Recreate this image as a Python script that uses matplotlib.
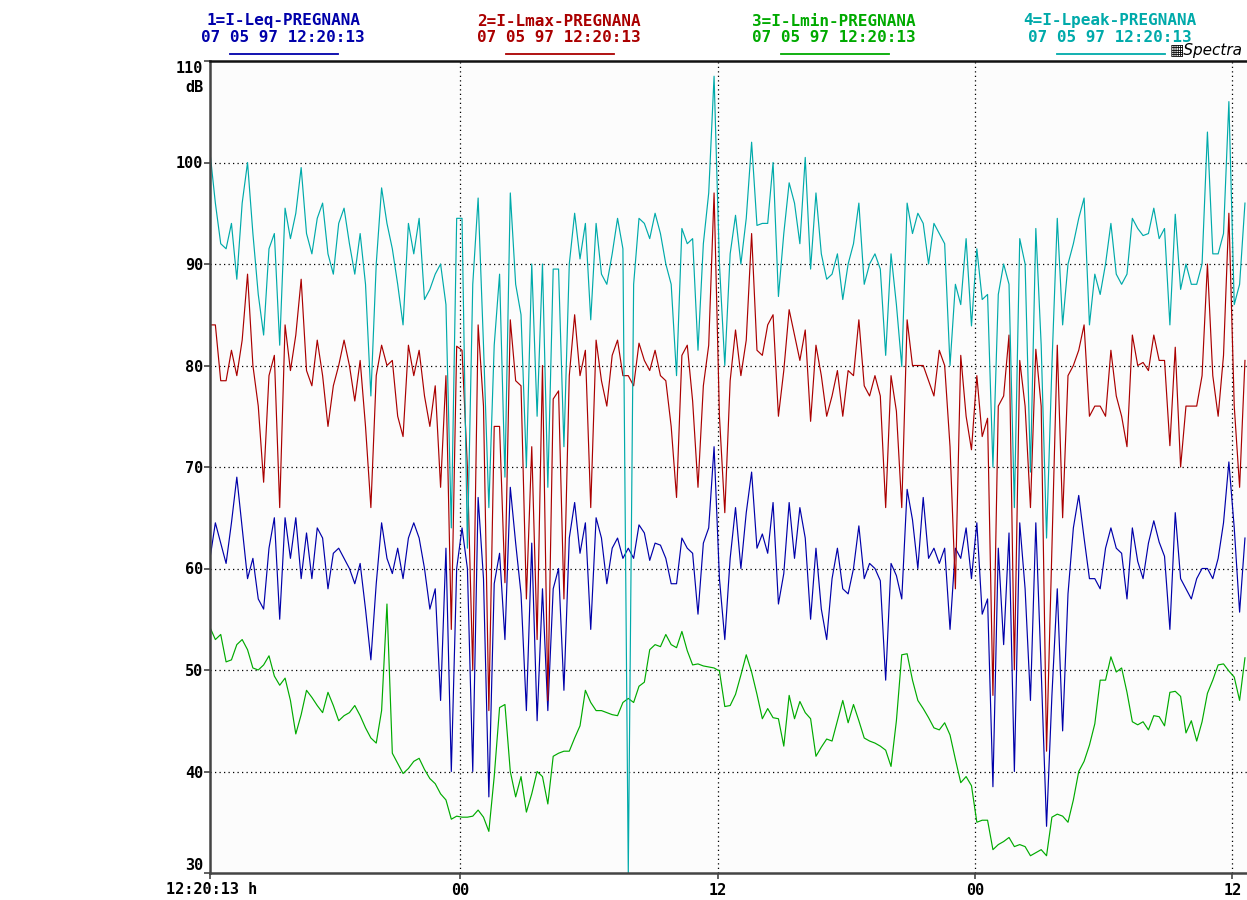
import numpy as np
import matplotlib.pyplot as plt

# levels, one value every 15 minutes from 12:20:13
leq = [61, 64.5, 62.5, 60.5, 64.5, 69, 64, 59, 61, 57, 56, 62, 65, 55, 65, 61, 65, 59, 63.5, 59,
       64, 63, 58, 61.5, 62, 61, 60, 58.5, 60.5, 56, 51, 58.5, 64.5, 61, 59.5, 62, 59, 63, 64.5, 63,
       60, 56, 58, 47, 62, 40, 60, 64, 60, 40, 67, 59, 37.5, 58.5, 61.5, 53, 68, 62.5, 57.5, 46,
       62.5, 45, 58, 46, 58, 60, 48, 63, 66.5, 61.5, 64.5, 54, 65, 63, 58.5, 62, 63, 61, 62,
       61, 64.3, 63.5, 60.8, 62.5, 62.3, 61, 58.5, 58.5, 63, 62, 61.5, 55.5, 62.5, 64, 72, 59, 53, 61, 66,
       60, 65.5, 69.5, 62, 63.4, 61.5, 66.5, 56.5, 59.5, 66.5, 61, 66, 63, 55, 62, 56, 53, 59, 62,
       58, 57.5, 60, 64.2, 59, 60.5, 60, 58.8, 49, 60.5, 59.3, 57, 67.8, 64.8, 60, 67, 61, 62, 60.5, 62,
       54, 62, 61, 64, 59, 64.5, 55.5, 57, 38.5, 62, 52.5, 63.5, 40, 64.5, 58, 47, 64.5, 50, 34.6,
       47.5, 58, 44, 57.5, 64, 67.2, 63, 59, 59, 58, 62, 64, 62, 61.5, 57, 64, 60.7, 59, 62.5, 64.7,
       62.6, 61.2, 54, 65.5, 59, 58, 57, 59, 60, 60, 59, 61, 64.5, 70.5, 64, 55.7, 63]

lmax = [84, 84, 78.5, 78.5, 81.5, 79, 82.5, 89, 80, 76, 68.5, 79, 81, 66, 84, 79.5, 83, 88.5, 79.5, 78,
        82.5, 79, 74, 78, 80, 82.5, 80, 76.5, 80.5, 74, 66, 79, 82, 80, 80.5, 75, 73, 82, 79, 81.5,
        77, 74, 78, 68, 79, 54, 81.9, 81.5, 70, 50, 84, 76, 46, 74, 74, 58.6, 84.5, 78.5, 78, 57,
        72, 53, 80, 47, 76.7, 77.5, 57, 79, 85, 79, 81.5, 66, 82.5, 78.5, 76, 81, 82.5, 79, 79,
        78, 82.2, 80.5, 79.5, 81.5, 79, 78.5, 74, 67, 81, 82, 76.5, 68, 78, 82, 97, 75, 65.5, 78.5, 83.5,
        79, 82.5, 93, 81.5, 81, 84, 85, 75, 79.5, 85.5, 83, 80.5, 83.5, 74.5, 82, 79, 75, 77, 79.5,
        75, 79.5, 79, 84.5, 78, 77, 79, 77, 66, 79, 75.5, 66, 84.5, 80, 80, 80, 78.5, 77, 81.5, 80,
        72, 58, 81, 75, 71.7, 79, 73, 74.8, 47.5, 76, 77, 83, 50, 80.5, 76, 66, 81.6, 76, 42,
        62, 82, 65, 79, 80, 81.5, 84, 75, 76, 76, 75, 81.5, 77, 75, 72, 83, 80, 80.3, 79.5, 83,
        80.5, 80.5, 72.1, 81.8, 70, 76, 76, 76, 79, 90, 79, 75, 81, 95, 76, 68, 80.5]

lmin = [54.2, 53, 53.5, 50.8, 51, 52.5, 53, 52, 50.2, 50, 50.5, 51.4, 49.4, 48.5, 49.2, 47, 43.7, 45.6, 48, 47.3,
        46.5, 45.8, 47.8, 46.5, 45, 45.5, 45.8, 46.5, 45.5, 44.3, 43.3, 42.8, 46, 56.5, 41.8, 40.8, 39.8, 40.3, 41, 41.3,
        40.2, 39.3, 38.8, 37.8, 37.2, 35.3, 35.6, 35.5, 35.5, 35.6, 36.2, 35.5, 34.1, 39.5, 46.3, 46.6, 40, 37.5, 39.5, 36,
        37.8, 40, 39.5, 36.8, 41.5, 41.8, 42, 42, 43.3, 44.5, 48, 46.8, 46, 46, 45.8, 45.6, 45.5, 46.8, 47.2,
        46.8, 48.4, 48.8, 52, 52.5, 52.3, 53.5, 52.5, 52.2, 53.8, 51.9, 50.5, 50.6, 50.4, 50.3, 50.2, 49.9, 46.4, 46.5, 47.6,
        49.5, 51.5, 49.8, 47.6, 45.2, 46.2, 45.3, 45.2, 42.5, 47.5, 45.2, 46.9, 45.8, 45.2, 41.5, 42.4, 43.2, 43, 45,
        47, 44.8, 46.6, 45, 43.3, 43, 42.8, 42.5, 42.1, 40.5, 45, 51.5, 51.6, 49, 47, 46.2, 45.3, 44.3, 44.1, 44.8,
        43.6, 41.2, 38.9, 39.5, 38.6, 35, 35.2, 35.2, 32.3, 32.8, 33.1, 33.5, 32.6, 32.8, 32.6, 31.7, 32, 32.3, 31.7,
        35.5, 35.8, 35.6, 35, 37.2, 40, 41, 42.6, 44.7, 49, 49, 51.3, 49.8, 50.2, 47.8, 44.9, 44.6, 44.9, 44.1, 45.5,
        45.4, 44.5, 47.8, 47.9, 47.4, 43.8, 45, 43, 44.9, 47.7, 49, 50.5, 50.6, 49.9, 49.3, 47, 51.2]

lpeak = [101, 96, 92, 91.5, 94, 88.5, 96, 100, 93, 87, 83, 91.5, 93, 82, 95.5, 92.5, 95, 99.5, 93, 91,
         94.5, 96, 91, 89, 94, 95.5, 92, 89, 93, 88, 77, 90, 97.5, 94, 91.5, 88, 84, 94, 91, 94.5,
         86.5, 87.5, 89, 90, 86, 64, 94.5, 94.5, 62, 88, 96.5, 82, 66, 82, 89, 69, 97, 88, 85, 70,
         90, 75, 90, 68, 89.5, 89.5, 72, 90, 95, 90.5, 94, 84.5, 94, 89, 88, 91, 94.5, 91.5, 30,
         88, 94.5, 94, 92.5, 95, 93, 90, 88, 79, 93.5, 92, 92.5, 81.5, 92, 97, 108.5, 90, 80, 91, 94.8,
         90, 94.5, 102, 93.8, 94, 94, 100, 86.8, 93, 98, 96, 92, 100.5, 89.5, 97, 91, 88.5, 89, 91,
         86.5, 90, 92, 96, 88, 90, 91, 89.5, 81, 91, 86, 79.9, 96, 93, 95, 94, 90, 94, 93, 92,
         80, 88, 86, 92.5, 83.9, 91.5, 86.5, 87, 70, 87, 90, 88, 66, 92.5, 90, 69.5, 93.5, 82, 63,
         80, 94.5, 84, 90, 92, 94.5, 96.5, 84, 89, 87, 90, 94, 89, 88, 89, 94.5, 93.5, 92.8, 93, 95.5,
         92.5, 93.5, 84, 94.9, 87.5, 90, 88, 88, 90, 103, 91, 91, 93, 106, 86, 88, 96]

names = ['1=I-Leq-PREGNANA', '2=I-Lmax-PREGNANA', '3=I-Lmin-PREGNANA', '4=I-Lpeak-PREGNANA']
colors = ['#0000aa', '#aa0000', '#00aa00', '#00aaaa']
stamp = '07 05 97 12:20:13'
y_ticks = [30, 40, 50, 60, 70, 80, 90, 100, 110]
x_labels = ['12:20:13 h', '00', '12', '00', '12']

step = 0.25
to_midnight = 11 + 39 / 60 + 47 / 3600
hours = np.arange(len(leq)) * step
x_ticks = [0] + [to_midnight + 12 * i for i in range(4)]

W, H = 1247, 900
mono = 'DejaVu Sans Mono'


def px(x, y):
    return x / W, 1 - y / H


fig = plt.figure(figsize=(W / 100, H / 100), dpi=100)
fig.patch.set_facecolor('white')
ax = fig.add_axes([210 / W, 27 / H, 1037 / W, 812 / H])
ax.set_facecolor('#fcfcfc')
ax.set_xlim(0, 1037 / 21.45)
ax.set_ylim(30, 110)

for v in y_ticks[1:-1]:
    ax.axhline(v, color='black', lw=0.9, ls=(0, (1, 2.6)), zorder=1)
for t in x_ticks[1:]:
    ax.axvline(t, color='black', lw=0.9, ls=(0, (1, 2.6)), zorder=1)

for series, c in zip([leq, lmax, lmin, lpeak], colors):
    ax.plot(hours, series, color=c, lw=0.85, zorder=2)

for side in ['left', 'bottom', 'top']:
    ax.spines[side].set_color('#444444')
    ax.spines[side].set_linewidth(1.8)
ax.spines['top'].set_color('#111111')
ax.spines['right'].set_visible(False)

ax.set_yticks(y_ticks)
ax.set_yticklabels([str(v) for v in y_ticks], fontfamily=mono, fontweight='bold', fontsize=11)
ax.set_xticks(x_ticks)
ax.set_xticklabels([''] + x_labels[1:], fontfamily=mono, fontweight='bold', fontsize=11)
ax.tick_params(axis='y', length=4, width=1.2, pad=1, color='#444444')
ax.tick_params(axis='x', length=4, width=1.2, pad=3, color='#444444')
ylabels = ax.get_yticklabels()
ylabels[0].set_va('bottom')
ylabels[-1].set_va('top')
fig.text(*px(166, 890), x_labels[0], ha='left', va='center',
         fontfamily=mono, fontweight='bold', fontsize=11)
ax.text(-0.006, 107.4, 'dB', transform=ax.get_yaxis_transform(), ha='right', va='center',
        fontfamily=mono, fontweight='bold', fontsize=11)

centers = [283, 559, 834, 1110]
for name, c, cx in zip(names, colors, centers):
    fig.text(*px(cx, 21), name, color=c, ha='center', va='center',
             fontfamily=mono, fontweight='bold', fontsize=11.5)
    fig.text(*px(cx, 38), stamp, color=c, ha='center', va='center',
             fontfamily=mono, fontweight='bold', fontsize=11.5)
    fig.add_artist(plt.Line2D([(cx - 53) / W, (cx + 55) / W], [1 - 54 / H, 1 - 54 / H],
                              color=c, lw=1.3))

fig.text(*px(1170, 50), '\u25a6Spectra', color='black', ha='left', va='center',
         fontsize=11, style='italic')

fig.savefig('out.png', dpi=100)
